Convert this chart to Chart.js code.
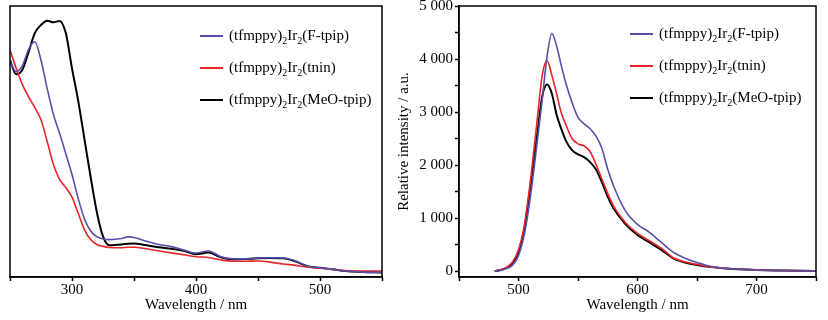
<!DOCTYPE html>
<html>
<head>
<meta charset="utf-8">
<script src="https://cdn.jsdelivr.net/npm/chart.js@4/dist/chart.umd.min.js"></script>
<style>
  body { margin: 0; background: #fff; }
  #wrap { position: relative; width: 828px; height: 320px; overflow: hidden; background: #fff; }
  canvas { position: absolute; top: 0; }
  #abs-chart { left: 0; }
  #pl-chart { left: 395px; }
  .legend { position: absolute; font-family: 'Liberation Serif', 'Times New Roman', serif; font-size: 15px; color: #000; }
  .legend div { position: absolute; white-space: nowrap; line-height: 16px; }
  .legend i { display: inline-block; width: 23px; height: 2px; vertical-align: middle; margin-right: 6px; position: relative; top: -1px; }
  .legend sub { font-size: 10px; vertical-align: -4px; line-height: 0; }
</style>
</head>
<body>
<div id="wrap">
  <canvas id="abs-chart" width="400" height="320"></canvas>
  <canvas id="pl-chart" width="433" height="320"></canvas>
  <div class="legend" id="abs-legend" style="left:200px;top:0"></div>
  <div class="legend" id="pl-legend" style="left:630px;top:0"></div>
</div>
<script>
// ── Data ──────────────────────────────────────────────────
const seriesNames  = ['F-tpip', 'tnin', 'MeO-tpip'];
const seriesColors = ['#5650a8', '#e8262a', '#000000'];

// absorption (left), relative absorbance, no y labels in the original
const absWl = [250, 255, 260, 265, 270, 275, 280, 285, 290, 295, 300, 305, 310, 315, 320, 325, 330,
               340, 345, 350, 360, 370, 380, 390, 400, 410, 420, 430, 440, 450, 460, 470, 480, 490,
               500, 510, 520, 535, 550];
const absFtpip = [0.794, 0.758, 0.78, 0.84, 0.868, 0.80, 0.695, 0.60, 0.53, 0.455, 0.378, 0.29, 0.215, 0.17,
                  0.149, 0.14, 0.138, 0.142, 0.148, 0.146, 0.132, 0.12, 0.112, 0.10, 0.088, 0.096, 0.075,
                  0.067, 0.067, 0.07, 0.071, 0.07, 0.06, 0.04, 0.034, 0.029, 0.022, 0.018, 0.017];
const absTnin  = [0.838, 0.77, 0.71, 0.665, 0.625, 0.58, 0.50, 0.415, 0.36, 0.33, 0.295, 0.235, 0.175, 0.138,
                  0.12, 0.113, 0.109, 0.108, 0.11, 0.11, 0.104, 0.096, 0.089, 0.082, 0.075, 0.072, 0.063,
                  0.058, 0.058, 0.059, 0.055, 0.048, 0.043, 0.036, 0.032, 0.028, 0.024, 0.022, 0.022];
const absMeo   = [0.80, 0.748, 0.765, 0.83, 0.90, 0.93, 0.946, 0.94, 0.945, 0.90, 0.77, 0.65, 0.51, 0.37,
                  0.24, 0.15, 0.117, 0.12, 0.123, 0.124, 0.117, 0.11, 0.104, 0.097, 0.084, 0.09, 0.073,
                  0.065, 0.066, 0.069, 0.07, 0.069, 0.058, 0.04, 0.034, 0.029, 0.022, 0.018, 0.017];
const absTicks = [250, 300, 350, 400, 450, 500, 550];

// emission (right), relative intensity
const plWl = [480, 485, 490, 495, 500, 505, 510, 515, 520, 524, 528, 532, 536, 540, 545, 550, 555, 560,
              565, 570, 575, 580, 590, 600, 610, 620, 630, 640, 650, 660, 670, 680, 700, 720, 750];
const plFtpip = [0, 15, 45, 110, 290, 700, 1400, 2300, 3250, 4050, 4480, 4250, 3870, 3530, 3180, 2900,
                 2780, 2690, 2550, 2320, 1920, 1600, 1130, 880, 730, 540, 355, 240, 160, 94, 60, 40, 20, 10, 0];
const plTnin  = [0, 25, 70, 170, 400, 880, 1700, 2700, 3700, 3968, 3700, 3350, 2980, 2750, 2500, 2400,
                 2360, 2260, 2020, 1740, 1460, 1220, 910, 710, 570, 430, 250, 170, 125, 82, 58, 42, 22, 10, 0];
const plMeo   = [0, 20, 60, 150, 360, 800, 1590, 2450, 3300, 3520, 3350, 2950, 2680, 2450, 2280, 2200,
                 2150, 2060, 1920, 1680, 1400, 1180, 880, 680, 540, 400, 240, 160, 115, 78, 55, 40, 20, 10, 0];
const plXTicks = [450, 500, 550, 600, 650, 700, 750];
const plYTicks = [0, 500, 1000, 1500, 2000, 2500, 3000, 3500, 4000, 4500, 5000];

const FONT = "'Liberation Serif', 'Times New Roman', serif";

// ── Helpers ───────────────────────────────────────────────
function toPoints(xs, ys) {
  return xs.map((x, i) => ({ x, y: ys[i] }));
}

function makeDatasets(xs, list) {
  return list.map((ys, i) => ({
    label: seriesNames[i],
    data: toPoints(xs, ys),
    borderColor: seriesColors[i],
    borderWidth: i === 2 ? 2 : 1.6,
    pointRadius: 0,
    cubicInterpolationMode: 'monotone',
    fill: false
  }));
}

const boxPlugin = {
  id: 'box',
  afterDraw(chart) {
    const { ctx, chartArea: a } = chart;
    ctx.save();
    ctx.strokeStyle = '#000';
    ctx.lineWidth = 1.5;
    ctx.strokeRect(a.left, a.top, a.right - a.left, a.bottom - a.top);
    ctx.restore();
  }
};

function xAxis(tickValues, lo, hi) {
  return {
    type: 'linear', min: tickValues[0], max: tickValues[tickValues.length - 1],
    afterBuildTicks: s => { s.ticks = tickValues.map(v => ({ value: v })); },
    afterFit: s => { s.height = 43; s.paddingLeft = 0; s.paddingRight = 0; },
    ticks: {
      color: '#000', padding: 0, maxRotation: 0, autoSkip: false,
      font: { family: FONT, size: 15 },
      callback: v => (v % 100 === 0 && v >= lo && v <= hi) ? String(v) : ''
    },
    grid: { drawOnChartArea: false, tickLength: 4, tickColor: '#000', tickWidth: 1.5 },
    border: { display: true, color: '#000', width: 1.5 },
    title: { display: true, text: 'Wavelength / nm', color: '#000', font: { family: FONT, size: 15 }, padding: { top: 0, bottom: 6 } }
  };
}

function buildLegend(id, top, gap) {
  const el = document.getElementById(id);
  el.innerHTML = seriesNames.map((n, i) =>
    `<div style="top:${top + i * gap - 8}px"><i style="background:${seriesColors[i]}"></i>(tfmppy)<sub>2</sub>Ir<sub>2</sub>(${n})</div>`
  ).join('');
}

// ── Absorption ────────────────────────────────────────────
new Chart(document.getElementById('abs-chart'), {
  type: 'line',
  data: { datasets: makeDatasets(absWl, [absFtpip, absTnin, absMeo]) },
  options: {
    responsive: false, animation: false,
    layout: { padding: { left: 10, right: 18, top: 6, bottom: 0 } },
    plugins: { legend: { display: false }, tooltip: { enabled: false } },
    scales: {
      x: xAxis(absTicks, 300, 500),
      y: { display: false, min: 0, max: 1 }
    }
  },
  plugins: [boxPlugin]
});

// ── Emission ──────────────────────────────────────────────
new Chart(document.getElementById('pl-chart'), {
  type: 'line',
  data: { datasets: makeDatasets(plWl, [plFtpip, plTnin, plMeo]) },
  options: {
    responsive: false, animation: false,
    layout: { padding: { left: 0, right: 12, top: 6, bottom: 0 } },
    plugins: { legend: { display: false }, tooltip: { enabled: false } },
    scales: {
      x: xAxis(plXTicks, 500, 700),
      y: {
        min: -113, max: 5000,
        afterBuildTicks: s => { s.ticks = plYTicks.map(v => ({ value: v })); },
        afterFit: s => { s.width = 64; s.paddingTop = 0; s.paddingBottom = 0; },
        ticks: {
          color: '#000', padding: 2, autoSkip: false,
          font: { family: FONT, size: 15 },
          callback: v => v % 1000 === 0 ? (v >= 1000 ? Math.floor(v / 1000) + ' 000' : String(v)) : ''
        },
        grid: { drawOnChartArea: false, tickLength: 4, tickColor: '#000', tickWidth: 1.5 },
        border: { display: true, color: '#000', width: 1.5 },
        title: { display: true, text: 'Relative intensity / a.u.', color: '#000', font: { family: FONT, size: 15 }, padding: { top: 0, bottom: 0 } }
      }
    }
  },
  plugins: [boxPlugin]
});

buildLegend('abs-legend', 35, 32);
buildLegend('pl-legend', 33, 32);
</script>
</body>
</html>
